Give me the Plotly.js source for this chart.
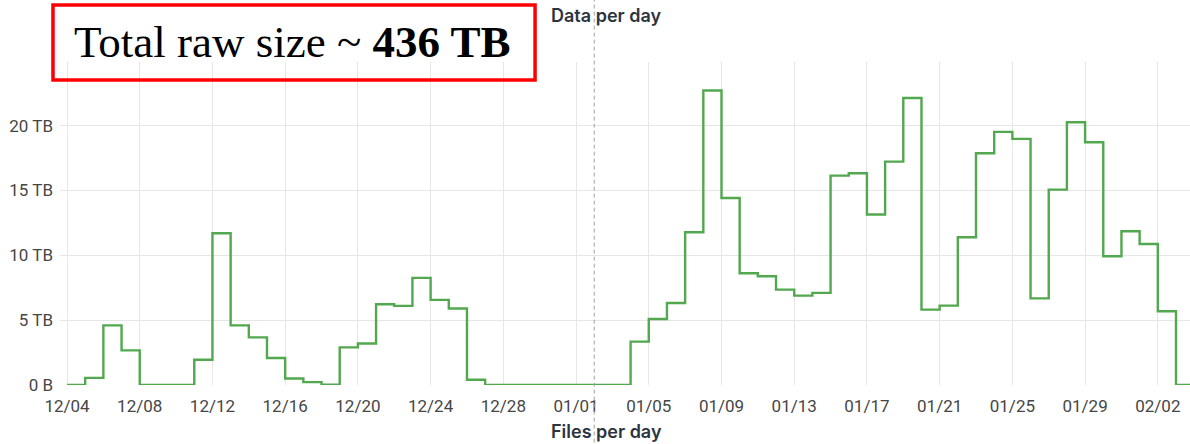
<!DOCTYPE html>
<html>
<head>
<meta charset="utf-8">
<script src="https://cdn.plot.ly/plotly-3.0.1.min.js"></script>
<style>
  html, body { margin: 0; padding: 0; background: #ffffff; }
  #chart { width: 1190px; height: 444px; }
</style>
</head>
<body>
<div id="chart"></div>
<script>
// ---- data ----
const days = [
  '2023-12-04','2023-12-05','2023-12-06','2023-12-07','2023-12-08','2023-12-09','2023-12-10',
  '2023-12-11','2023-12-12','2023-12-13','2023-12-14','2023-12-15','2023-12-16','2023-12-17',
  '2023-12-18','2023-12-19','2023-12-20','2023-12-21','2023-12-22','2023-12-23','2023-12-24',
  '2023-12-25','2023-12-26','2023-12-27','2023-12-28','2023-12-29','2023-12-30','2023-12-31',
  '2024-01-01','2024-01-02','2024-01-03','2024-01-04','2024-01-05','2024-01-06','2024-01-07',
  '2024-01-08','2024-01-09','2024-01-10','2024-01-11','2024-01-12','2024-01-13','2024-01-14',
  '2024-01-15','2024-01-16','2024-01-17','2024-01-18','2024-01-19','2024-01-20','2024-01-21',
  '2024-01-22','2024-01-23','2024-01-24','2024-01-25','2024-01-26','2024-01-27','2024-01-28',
  '2024-01-29','2024-01-30','2024-01-31','2024-02-01','2024-02-02','2024-02-03','2024-02-04'
];
const dataTB = [
  0, 0.55, 4.6, 2.67, 0, 0, 0,
  1.95, 11.7, 4.6, 3.67, 2.08, 0.5, 0.22,
  0.02, 2.9, 3.2, 6.23, 6.1, 8.26, 6.56,
  5.9, 0.41, 0, 0, 0, 0, 0,
  0, 0, 0, 3.34, 5.09, 6.32, 11.77,
  22.7, 14.42, 8.61, 8.38, 7.35, 6.89, 7.1,
  16.14, 16.32, 13.14, 17.22, 22.13, 5.81, 6.12,
  11.39, 17.87, 19.51, 18.97, 6.68, 15.06, 20.26,
  18.71, 9.92, 11.85, 10.87, 5.68, 0, 0
];
const xTickDates = ['2023-12-04','2023-12-08','2023-12-12','2023-12-16','2023-12-20','2023-12-24',
  '2023-12-28','2024-01-01','2024-01-05','2024-01-09','2024-01-13','2024-01-17','2024-01-21',
  '2024-01-25','2024-01-29','2024-02-02'];
const xTickLabels = ['12/04','12/08','12/12','12/16','12/20','12/24','12/28','01/01','01/05',
  '01/09','01/13','01/17','01/21','01/25','01/29','02/02'];
const yTickVals = [0, 5, 10, 15, 20];
const yTickLabels = ['0 B', '5 TB', '10 TB', '15 TB', '20 TB'];
const xRange = ['2023-12-03 14:45', '2024-02-03 18:30'];
const yRange = [0, 24.9];
const cursorDate = '2024-01-02 00:00';
const topTitle = 'Data per day';
const bottomTitle = 'Files per day';
const boxText = 'Total raw size ~ <b>436 TB</b>';

const trace = {
  x: days, y: dataTB, type: 'scatter', mode: 'lines',
  line: { shape: 'hv', color: '#52a84e', width: 2.4 },
  hoverinfo: 'skip'
};

const layout = {
  width: 1190, height: 444,
  margin: { l: 60, r: 0, t: 62, b: 59 },
  paper_bgcolor: '#ffffff', plot_bgcolor: '#ffffff',
  showlegend: false,
  font: { family: 'Roboto, sans-serif', color: '#464646', size: 16 },
  xaxis: {
    type: 'date', range: xRange,
    tickvals: xTickDates, ticktext: xTickLabels,
    showgrid: true, gridcolor: '#e6e6e6', gridwidth: 1,
    zeroline: false, showline: false, ticks: '',
    ticklabelstandoff: 9,
    tickfont: { family: 'Roboto, sans-serif', size: 17, color: '#464646' }
  },
  yaxis: {
    range: yRange, tickvals: yTickVals, ticktext: yTickLabels,
    showgrid: true, gridcolor: '#e6e6e6', gridwidth: 1,
    zeroline: false, showline: false, ticks: '',
    ticklabelstandoff: 6,
    tickfont: { family: 'Roboto, sans-serif', size: 17, color: '#464646' }
  },
  shapes: [
    { type: 'line', xref: 'x', yref: 'paper', x0: cursorDate, x1: cursorDate, y0: -0.2, y1: 1.2,
      line: { color: '#a0a0a0', width: 1, dash: '4px,3px' } },
    { type: 'rect', xref: 'paper', yref: 'paper', x0: -0.0062, x1: 0.4204, y0: 0.9443, y1: 1.1765,
      line: { color: '#ff0000', width: 3.5 }, fillcolor: 'rgba(0,0,0,0)' }
  ],
  annotations: [
    { text: boxText, xref: 'paper', yref: 'paper', x: 0.2058, y: 1.062,
      xanchor: 'center', yanchor: 'middle', showarrow: false,
      font: { family: '"Liberation Serif", "Times New Roman", serif', size: 45, color: '#000000' } },
    { text: topTitle, xref: 'paper', yref: 'paper', x: (606 - 60) / 1130, y: (385 - 16) / 323,
      xanchor: 'center', yanchor: 'middle', showarrow: false,
      font: { family: 'Inter, Roboto, sans-serif', size: 18, color: '#2d3440', weight: 600 } },
    { text: bottomTitle, xref: 'paper', yref: 'paper', x: (606 - 60) / 1130, y: (385 - 431) / 323,
      xanchor: 'center', yanchor: 'middle', showarrow: false,
      font: { family: 'Inter, Roboto, sans-serif', size: 18, color: '#2d3440', weight: 600 } }
  ]
};

Plotly.newPlot('chart', [trace], layout, { staticPlot: true, displayModeBar: false });
</script>
</body>
</html>
